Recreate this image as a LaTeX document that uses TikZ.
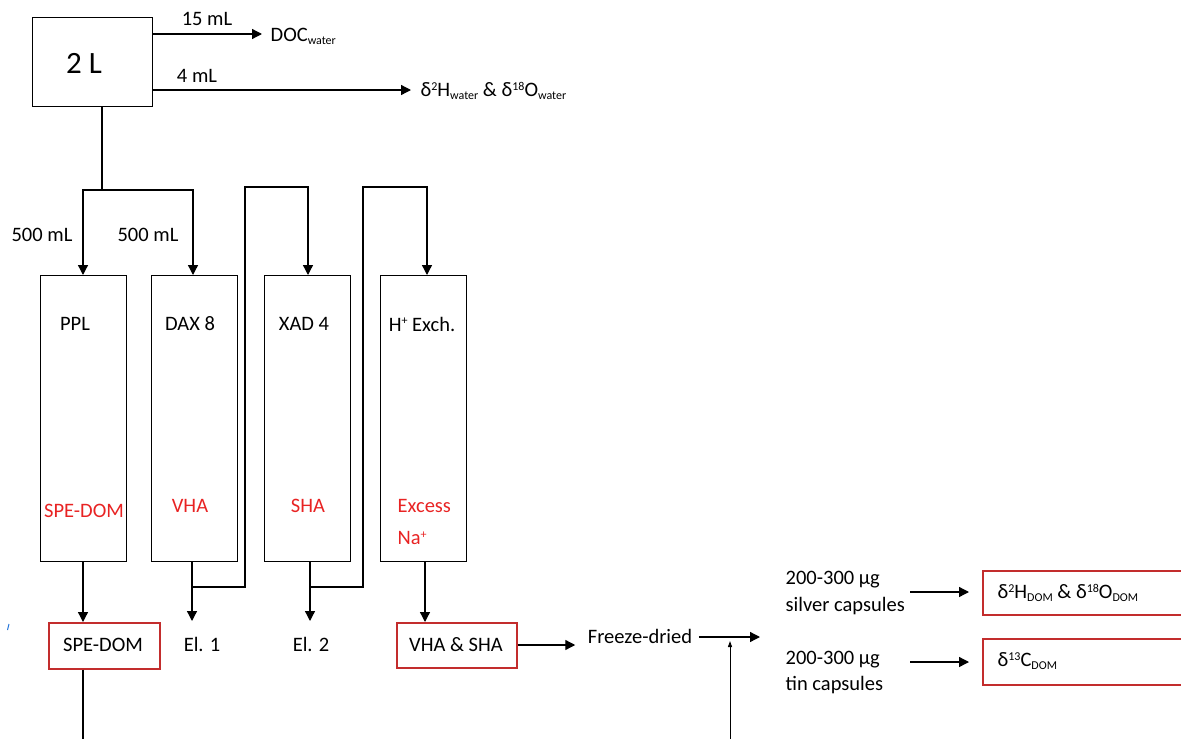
\documentclass[tikz,border=0pt]{standalone}
\usepackage{fontspec}
\setmainfont{Carlito}
\usetikzlibrary{arrows.meta}
\definecolor{boxred}{RGB}{195,45,45}
\definecolor{txtred}{RGB}{232,35,35}
\definecolor{tickblue}{RGB}{40,120,220}
\newcommand{\fsn}{\fontsize{20.5}{23}\selectfont}
\newcommand{\lo}[1]{\raisebox{-0.3ex}{\fontsize{12}{12}\selectfont #1}}
\newcommand{\hi}[1]{\raisebox{0.65ex}{\fontsize{12}{12}\selectfont #1}}
\begin{document}
\begin{tikzpicture}[x=1pt,y=-1pt,line width=1.3pt,
  every node/.style={font=\fsn,inner sep=0pt},
  arr/.style={-{Triangle[length=10pt,width=10pt]}},
  colbox/.style={draw,anchor=north west,minimum width=86pt,minimum height=286pt},
  redbox/.style={draw=boxred,line width=1.5pt,anchor=north west},
  redlbl/.style={text=txtred}]
\useasboundingbox (0,0) rectangle (1181,739);
\clip (0,0) rectangle (1181,739);
% source box
\node[draw,anchor=north west,minimum width=120pt,minimum height=89pt] (src) at (32,17) {};
\node[font=\fontsize{31}{34}\selectfont] (srcl) at (84,63) {2 L};
\coordinate (s15) at (152,34);
\coordinate (s4) at (152,90);
\node[anchor=west] (doc) at (270,36) {DOC\lo{water}};
\node[anchor=west] (iso) at (420,91) {δ\hi{2}H\lo{water} \& δ\hi{18}O\lo{water}};
\draw[arr] (s15) -- ([xshift=-8pt]doc.west |- s15);
\draw[arr] (s4) -- ([xshift=-9pt]iso.west |- s4);
\node (l15) at (207,19) {15 mL};
\node (l4) at (197,76) {4 mL};
% columns
\node[colbox] (ppl) at (40,275) {};
\node[colbox] (dax) at (151,275) {};
\node[colbox] (xad) at (264,275) {};
\node[colbox] (hex) at (380,275) {};
\node (tppl) at (75,324) {PPL};
\node (tdax) at (190,324) {DAX 8};
\node (txad) at (304,324) {XAD 4};
\node (thex) at (422,324) {H\hi{+} Exch.};
\node[redlbl] (rppl) at (84,511) {SPE-DOM};
\node[redlbl] (rdax) at (190,506) {VHA};
\node[redlbl] (rxad) at (308,506) {SHA};
\node[redlbl,anchor=west] (rhex1) at (397,506) {Excess};
\node[redlbl,anchor=west] (rhex2) at (397,538) {Na\hi{+}};
\node (l500a) at (42,235) {500 mL};
\node (l500b) at (148,235) {500 mL};
% split from source
\coordinate (sb) at (102,106);
\coordinate (split) at (102,190);
\coordinate (spl) at (83,190);
\coordinate (spr) at (193,190);
\draw (src.south -| sb) -- (split);
\draw[arr] (spr) -- (spl) -- (spl |- ppl.north);
\draw[arr] (spl) -- (spr) -- (spr |- dax.north);
% outputs
\node[redbox,minimum width=111pt,minimum height=46pt] (spebox) at (48,622) {};
\node (spet) at (103,645) {SPE-DOM};
\node (el1) at (202,644) {El. 1};
\node (el2) at (311,644) {El. 2};
\node[redbox,minimum width=120pt,minimum height=45pt] (vsbox) at (396,622) {};
\node (vst) at (456,645) {VHA \& SHA};
\draw[arr] (ppl.south -| spl) -- (spebox.north -| spl);
\draw (spebox.south -| spl) -- (83,745);
\draw[arr] (192,561) -- (192,621);
\draw[arr] (310,561) -- (310,621);
\draw[arr] (425,561) -- (vsbox.north -| 425,0);
% loops
\coordinate (j1) at (192,587);
\coordinate (j2) at (310,587);
\draw[arr] (j1) -- (245,587) -- (245,187) -- (308,187) -- (308,275);
\draw[arr] (j2) -- (363,587) -- (363,187) -- (427,187) -- (427,275);
% freeze-dried
\node (fd) at (640,636) {Freeze-dried};
\draw[arr] (vsbox.east |- 0,645) -- ([xshift=-12pt]fd.west |- 0,645);
\draw[arr] ([xshift=6pt]fd.east |- 0,637) -- (760,637);
\draw[line width=1pt,-{Triangle[length=6pt,width=4pt]}] (730,745) -- (730,641);
% capsules
\node[anchor=west] (cap1a) at (785,580) {200-300 µg};
\node[anchor=west] (cap1b) at (785,606) {silver capsules};
\node[anchor=west] (cap2a) at (785,660) {200-300 µg};
\node[anchor=west] (cap2b) at (785,685) {tin capsules};
\node[redbox,minimum width=220pt,minimum height=44pt] (res1) at (982,570) {};
\node[redbox,minimum width=220pt,minimum height=46pt] (res2) at (982,638) {};
\node[anchor=west] (res1t) at (997,593) {δ\hi{2}H\lo{DOM} \& δ\hi{18}O\lo{DOM}};
\node[anchor=west] (res2t) at (997,661) {δ\hi{13}C\lo{DOM}};
\draw[arr] (910,592) -- ([xshift=-13pt]res1.west |- 0,592);
\draw[arr] (910,662) -- ([xshift=-13pt]res2.west |- 0,662);
% small blue mark
\draw[tickblue,line width=1pt] (7.5,630) -- (9,624);
\end{tikzpicture}
\end{document}
